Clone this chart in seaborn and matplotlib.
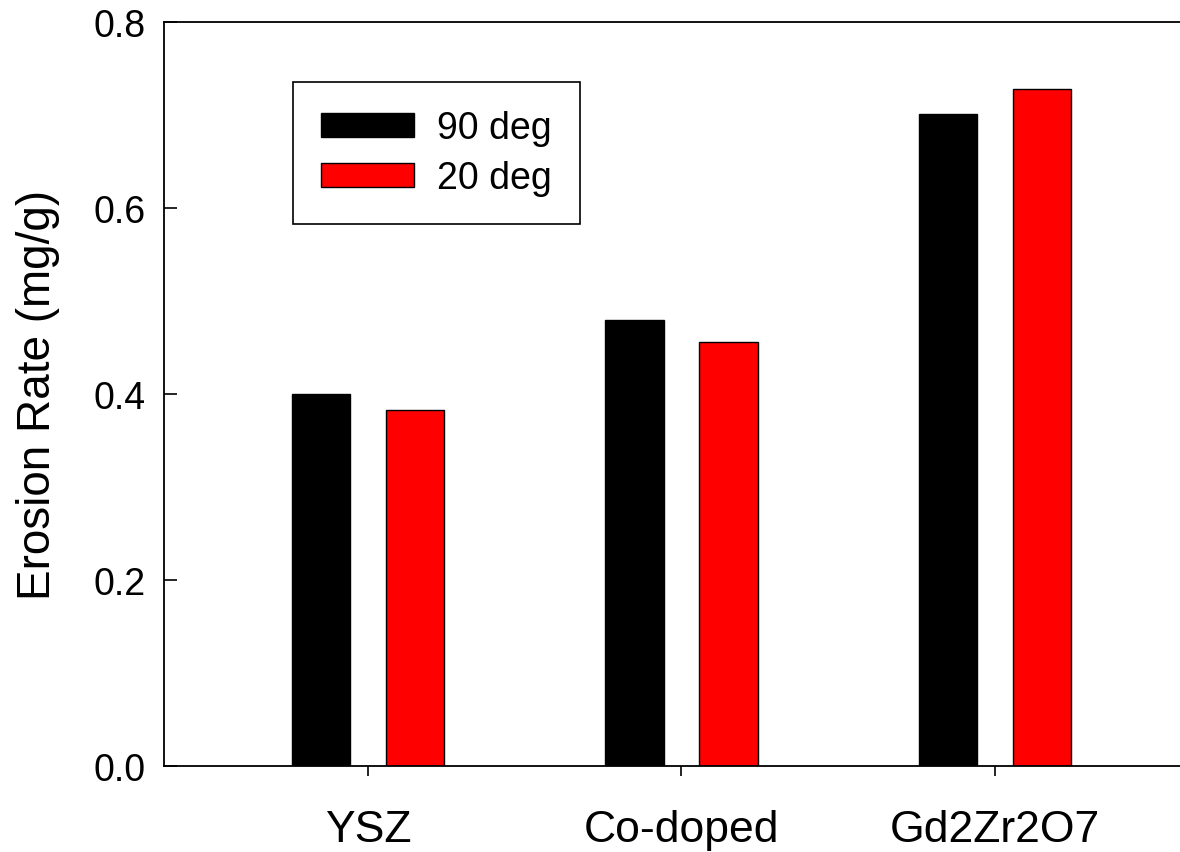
import matplotlib
matplotlib.use("Agg")
import matplotlib.pyplot as plt
import seaborn as sns
import pandas as pd

# Erosion rate per coating material at two impingement angles
materials = ["YSZ", "Co-doped", "Gd2Zr2O7"]
angles = ["90 deg", "20 deg"]
rate_90 = [0.400, 0.479, 0.701]
rate_20 = [0.383, 0.456, 0.728]
y_ticks = [0.0, 0.2, 0.4, 0.6, 0.8]

df = pd.DataFrame({
    "material": materials * 2,
    "angle": [angles[0]] * 3 + [angles[1]] * 3,
    "rate": rate_90 + rate_20,
})

sns.set_style("white")
plt.rcParams["font.family"] = ["Liberation Sans", "DejaVu Sans"]
plt.rcParams["text.color"] = "black"
plt.rcParams["axes.labelcolor"] = "black"
plt.rcParams["xtick.color"] = "black"
plt.rcParams["ytick.color"] = "black"

fig = plt.figure(figsize=(11.8, 8.53), dpi=100)
ax = fig.add_axes([0.139, 0.1008, 0.861, 0.8728])

sns.barplot(
    data=df, x="material", y="rate", hue="angle",
    order=materials, hue_order=angles,
    palette={"90 deg": "#000000", "20 deg": "#ff0000"}, saturation=1,
    width=0.6, gap=0.38, edgecolor="black", linewidth=1.0,
    errorbar=None, ax=ax,
)

ax.set_xlim(-0.65, 2.59)
ax.set_ylim(0, 0.8)
ax.set_yticks(y_ticks)
ax.set_yticklabels([f"{v:.1f}" for v in y_ticks])

for side in ["left", "bottom", "top"]:
    ax.spines[side].set_visible(True)
    ax.spines[side].set_color("black")
    ax.spines[side].set_linewidth(1.3)
ax.spines["right"].set_visible(False)

ax.tick_params(axis="y", direction="in", length=9, width=1.2, pad=13,
               labelsize=27, left=True, colors="black")
ax.tick_params(axis="x", direction="out", length=7, width=1.2, pad=24,
               labelsize=32, bottom=True, colors="black")

ax.set_xlabel("")
ax.set_ylabel("Erosion Rate (mg/g)", fontsize=33, color="black")
ax.yaxis.set_label_coords(-0.102, 0.5)

old = ax.get_legend()
handles = old.legend_handles
labels = [t.get_text() for t in old.get_texts()]
old.remove()
leg = ax.legend(
    handles, labels, loc="upper left", bbox_to_anchor=(0.127, 0.9187),
    borderaxespad=0, fontsize=27, frameon=True, fancybox=False,
    handlelength=2.48, handleheight=0.59, handletextpad=0.6,
    labelspacing=0.37, borderpad=0.75, labelcolor="black",
)
leg.get_frame().set_edgecolor("black")
leg.get_frame().set_linewidth(1.2)
leg.get_frame().set_alpha(1)

fig.savefig("out.png", dpi=100)
